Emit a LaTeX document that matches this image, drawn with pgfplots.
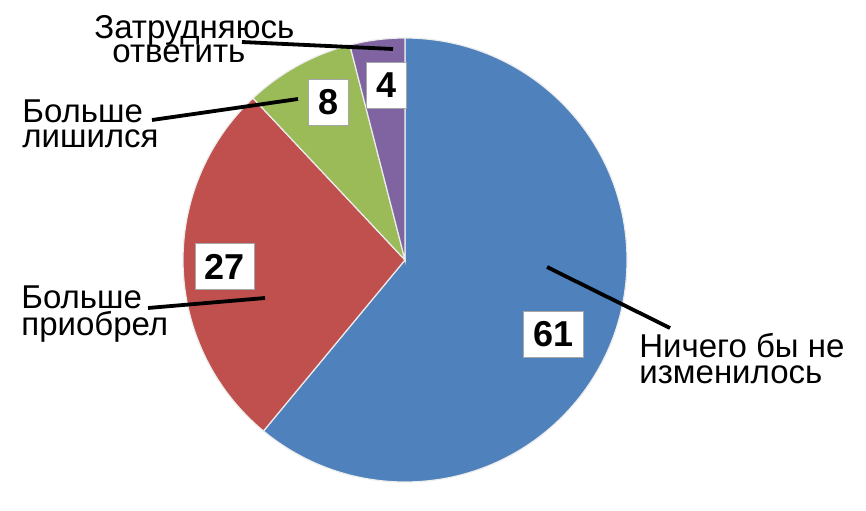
\documentclass[border=0pt]{standalone}
\usepackage{fontspec}
\setmainfont{Liberation Sans}
\usepackage{pgfplots}
\usepackage{pgfplotstable}
\pgfplotsset{compat=1.18}

\definecolor{pieblue}{HTML}{4F81BD}
\definecolor{piered}{HTML}{C0504D}
\definecolor{piegreen}{HTML}{9BBB59}
\definecolor{piepurple}{HTML}{8064A2}

% shares in percent, clockwise from the top
\pgfplotstableread{
idx value
0 61
1 27
2 8
3 4
}\piedata

% slice values and boundary angles
\pgfplotstablegetelem{0}{value}\of\piedata\let\vA\pgfplotsretval
\pgfplotstablegetelem{1}{value}\of\piedata\let\vB\pgfplotsretval
\pgfplotstablegetelem{2}{value}\of\piedata\let\vC\pgfplotsretval
\pgfplotstablegetelem{3}{value}\of\piedata\let\vD\pgfplotsretval
\pgfmathsetmacro{\aA}{90}
\pgfmathsetmacro{\aB}{\aA-3.6*\vA}
\pgfmathsetmacro{\aC}{\aB-3.6*\vB}
\pgfmathsetmacro{\aD}{\aC-3.6*\vC}
\pgfmathsetmacro{\aE}{\aD-3.6*\vD}

\begin{document}
\begin{tikzpicture}[
    slice/.style={draw=white!85!gray, line width=0.6pt},
    val/.style={fill=white, draw=black!35, line width=0.4pt,
        font=\fontsize{18}{20}\selectfont\bfseries,
        inner xsep=4.8pt, minimum height=23pt},
    lab/.style={anchor=base west, inner sep=0pt,
        text height=10.4pt, text depth=2.4pt,
        font=\fontsize{16.5}{18}\selectfont},
    lead/.style={black, line width=1.9pt},
]
\begin{axis}[
    width=433pt, height=255pt,
    scale only axis,
    xmin=0, xmax=866,
    ymin=0, ymax=510,
    xtick=\empty, ytick=\empty,
    hide axis,
    clip=false,
]
\coordinate (bl) at (axis cs:0,0);
\coordinate (tr) at (axis cs:866,510);

\fill[pieblue, slice] (axis cs:405,250) -- +(\aA:111pt) arc[start angle=\aA, end angle=\aB, radius=111pt] -- cycle;
\fill[piered, slice] (axis cs:405,250) -- +(\aB:111pt) arc[start angle=\aB, end angle=\aC, radius=111pt] -- cycle;
\fill[piegreen, slice] (axis cs:405,250) -- +(\aC:111pt) arc[start angle=\aC, end angle=\aD, radius=111pt] -- cycle;
\fill[piepurple, slice] (axis cs:405,250) -- +(\aD:111pt) arc[start angle=\aD, end angle=\aE, radius=111pt] -- cycle;

% leader lines
\draw[lead] (axis cs:547,243) -- (axis cs:670,182);
\draw[lead] (axis cs:148,202) -- (axis cs:265,212);
\draw[lead] (axis cs:152,390) -- (axis cs:298,411);
\draw[lead] (axis cs:242,468) -- (axis cs:393,461);

% value boxes
\node[val] at (axis cs:553.5,175.5) {\vA};
\node[val] at (axis cs:225,243.5) {\vB};
\node[val] at (axis cs:328.5,407.5) {\vC};
\node[val] at (axis cs:386.5,425) {\vD};

% category labels
\node[lab] at (axis cs:639,153) {Ничего бы не};
\node[lab] at (axis cs:639,127) {изменилось};
\node[lab] at (axis cs:21,202) {Больше};
\node[lab] at (axis cs:21,175) {приобрел};
\node[lab] at (axis cs:22,388) {Больше};
\node[lab] at (axis cs:22,363) {лишился};
\node[lab] at (axis cs:94,472) {Затрудняюсь};
\node[lab] at (axis cs:112,447) {ответить};
\end{axis}
% the page is exactly the data frame
\pgfresetboundingbox
\path (bl) rectangle (tr);
\end{tikzpicture}
\end{document}
